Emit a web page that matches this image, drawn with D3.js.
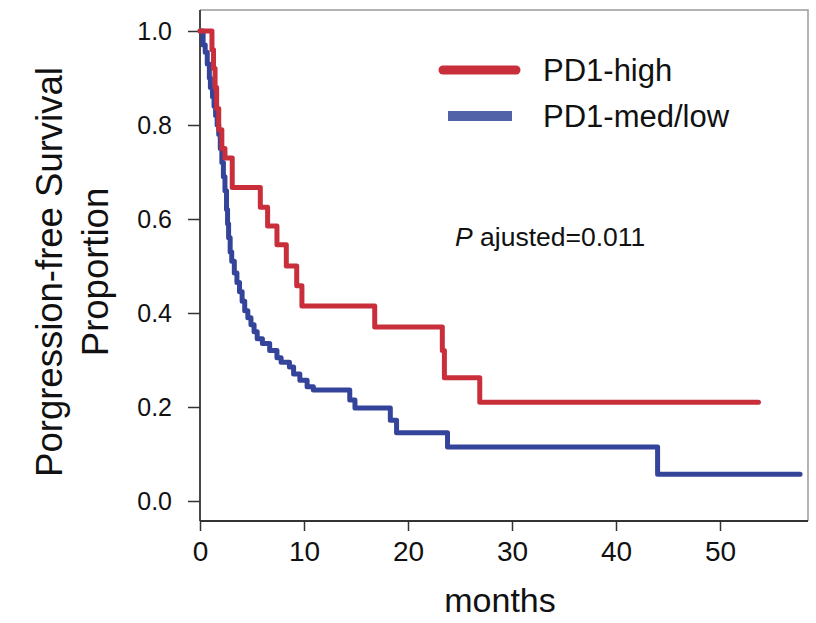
<!DOCTYPE html>
<html>
<head>
<meta charset="utf-8">
<script src="https://cdn.jsdelivr.net/npm/d3@7/dist/d3.min.js"></script>
<style>
  html, body { margin: 0; padding: 0; background: #fff; }
  svg { display: block; font-family: "Liberation Sans", Arial, Helvetica, sans-serif; }
</style>
</head>
<body>
<svg id="chart" width="816" height="623"></svg>
<script>
// Kaplan-Meier step data: [months, survival proportion after the event]
const pd1High = [
  [0, 1.0], [1.15, 0.96], [1.3, 0.92], [1.45, 0.88], [1.6, 0.835], [1.8, 0.79],
  [2.1, 0.75], [2.4, 0.73], [3.1, 0.667], [5.8, 0.625], [6.5, 0.585], [7.4, 0.545],
  [8.3, 0.5], [9.3, 0.458], [9.8, 0.415], [16.8, 0.37], [23.3, 0.32], [23.5, 0.262],
  [26.9, 0.21]
];
const pd1HighEnd = 53.7;

const pd1MedLow = [
  [0, 1.0], [0.3, 0.97], [0.5, 0.955], [0.7, 0.93], [0.9, 0.9], [1.0, 0.88],
  [1.2, 0.86], [1.35, 0.84], [1.5, 0.82], [1.65, 0.8], [1.8, 0.78], [1.95, 0.75],
  [2.1, 0.72], [2.25, 0.69], [2.4, 0.66], [2.55, 0.62], [2.65, 0.59], [2.75, 0.56],
  [2.9, 0.53], [3.05, 0.51], [3.3, 0.485], [3.55, 0.465], [3.8, 0.445], [4.05, 0.425],
  [4.3, 0.405], [4.6, 0.39], [4.9, 0.375], [5.2, 0.36], [5.5, 0.345], [6.0, 0.335],
  [6.7, 0.32], [7.4, 0.305], [7.8, 0.295], [8.6, 0.285], [9.0, 0.27], [9.6, 0.257],
  [10.3, 0.243], [10.9, 0.236], [14.4, 0.215], [14.9, 0.198], [18.3, 0.172],
  [18.9, 0.145], [23.8, 0.115], [44.0, 0.057]
];
const pd1MedLowEnd = 57.7;

const xTicks = [0, 10, 20, 30, 40, 50];
const yTicks = [0.0, 0.2, 0.4, 0.6, 0.8, 1.0];
const seriesNames = ["PD1-high", "PD1-med/low"];
const seriesColors = ["#c92f3b", "#34449a"];
const legendColors = ["#c92f3b", "#5262a8"];

const svg = d3.select("#chart");

const x = d3.scaleLinear().domain([0, 50]).range([200, 720]);
const y = d3.scaleLinear().domain([0, 1]).range([501, 31]);

// plot frame extents
const frame = { left: 200, right: 808, top: 10, bottom: 521 };

// top and right frame lines (lighter)
svg.append("path")
  .attr("d", `M${frame.left},${frame.top}H${frame.right}V${frame.bottom}`)
  .attr("fill", "none").attr("stroke", "#9a9a9a").attr("stroke-width", 1.5);

// x axis
const xAxis = svg.append("g")
  .attr("transform", `translate(0,${frame.bottom})`)
  .call(d3.axisBottom(x).tickValues(xTicks).tickFormat(d3.format("d")).tickSize(10).tickPadding(10));
xAxis.select(".domain").attr("d", `M${frame.left},0H${frame.right}`).attr("stroke", "#333").attr("stroke-width", 1.8);
xAxis.selectAll(".tick line").attr("stroke", "#333").attr("stroke-width", 1.5);
xAxis.selectAll(".tick text").attr("font-size", 28).attr("fill", "#111")
  .attr("font-family", "Liberation Sans, Arial, sans-serif");

// y axis
const yAxis = svg.append("g")
  .attr("transform", `translate(${frame.left},0)`)
  .call(d3.axisLeft(y).tickValues(yTicks).tickFormat(d3.format(".1f")).tickSize(12).tickPadding(16));
yAxis.select(".domain").attr("d", `M0,${frame.top}V${frame.bottom}`).attr("stroke", "#333").attr("stroke-width", 1.8);
yAxis.selectAll(".tick line").attr("stroke", "#333").attr("stroke-width", 1.5);
yAxis.selectAll(".tick text").attr("font-size", 25).attr("fill", "#111")
  .attr("font-family", "Liberation Sans, Arial, sans-serif");

// survival curves
const step = d3.line().x(d => x(d[0])).y(d => y(d[1])).curve(d3.curveStepAfter);
function withEnd(data, end) { return data.concat([[end, data[data.length - 1][1]]]); }

svg.append("path")
  .datum(withEnd(pd1MedLow, pd1MedLowEnd))
  .attr("d", step).attr("fill", "none")
  .attr("stroke", seriesColors[1]).attr("stroke-width", 5)
  .attr("stroke-linejoin", "round").attr("stroke-linecap", "round");

svg.append("path")
  .datum(withEnd(pd1High, pd1HighEnd))
  .attr("d", step).attr("fill", "none")
  .attr("stroke", seriesColors[0]).attr("stroke-width", 5)
  .attr("stroke-linejoin", "round").attr("stroke-linecap", "round");

// legend
const legend = svg.append("g");
legend.append("line").attr("x1", 443).attr("x2", 516).attr("y1", 70).attr("y2", 70)
  .attr("stroke", legendColors[0]).attr("stroke-width", 9).attr("stroke-linecap", "round");
legend.append("line").attr("x1", 448).attr("x2", 512).attr("y1", 116).attr("y2", 116)
  .attr("stroke", legendColors[1]).attr("stroke-width", 10);
legend.selectAll("text.lab").data(seriesNames).enter().append("text")
  .attr("class", "lab")
  .attr("x", 543).attr("y", (d, i) => 81 + i * 46)
  .attr("font-size", 31).attr("fill", "#111").text(d => d);

// p-value annotation
const pt = svg.append("text").attr("x", 455).attr("y", 246).attr("font-size", 26.5).attr("fill", "#111");
pt.append("tspan").attr("font-style", "italic").text("P");
pt.append("tspan").text(" ajusted=0.011");

// axis titles
svg.append("text").attr("x", 500).attr("y", 612).attr("text-anchor", "middle")
  .attr("font-size", 34).attr("fill", "#111").text("months");

const yTitle = svg.append("g").attr("transform", "translate(0,272) rotate(-90)");
yTitle.append("text").attr("x", 0).attr("y", 62).attr("text-anchor", "middle")
  .attr("font-size", 36.5).attr("fill", "#111").text("Porgression-free Survival");
yTitle.append("text").attr("x", 0).attr("y", 108).attr("text-anchor", "middle")
  .attr("font-size", 36.5).attr("fill", "#111").text("Proportion");
</script>
</body>
</html>
